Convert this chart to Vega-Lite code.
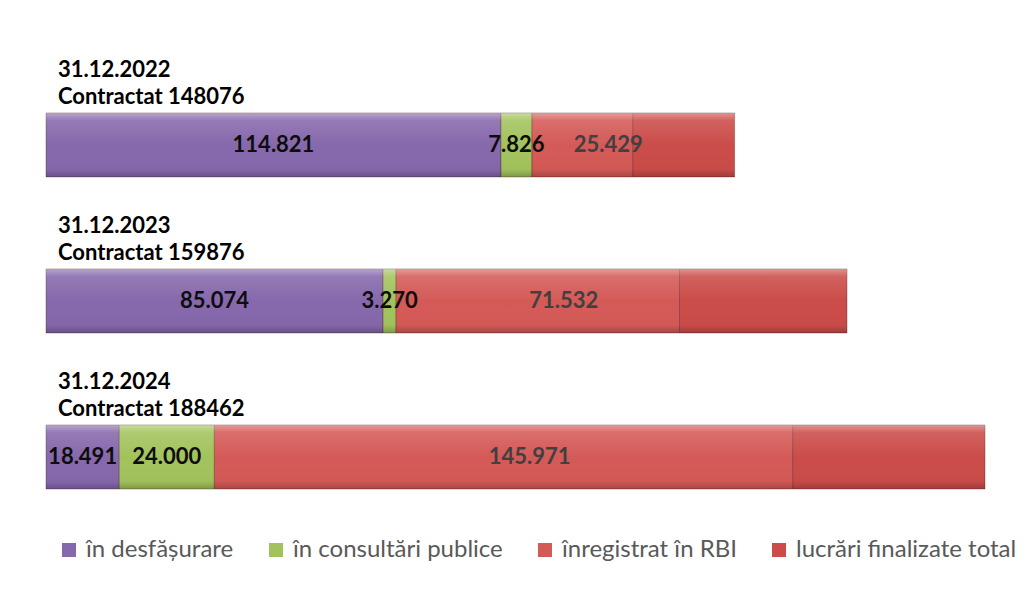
{
  "$schema": "https://vega.github.io/schema/vega-lite/v6.json",
  "width": 951,
  "height": 376,
  "autosize": {"type": "none"},
  "padding": {"left": 46, "top": 113, "right": 36, "bottom": 108},
  "background": "white",
  "config": {"view": {"stroke": null}, "font": "Lato"},
  "data": {
    "values": [
      {"an": "31.12.2022", "contract": "Contractat 148076", "categorie": "în desfășurare", "k": 1, "valoare": 114821, "eticheta": "114.821"},
      {"an": "31.12.2022", "contract": "Contractat 148076", "categorie": "în consultări publice", "k": 2, "valoare": 7826, "eticheta": "7.826"},
      {"an": "31.12.2022", "contract": "Contractat 148076", "categorie": "înregistrat în RBI", "k": 3, "valoare": 25429, "eticheta": "25.429"},
      {"an": "31.12.2022", "contract": "Contractat 148076", "categorie": "lucrări finalizate total", "k": 4, "valoare": 25700, "eticheta": ""},
      {"an": "31.12.2023", "contract": "Contractat 159876", "categorie": "în desfășurare", "k": 1, "valoare": 85074, "eticheta": "85.074"},
      {"an": "31.12.2023", "contract": "Contractat 159876", "categorie": "în consultări publice", "k": 2, "valoare": 3270, "eticheta": "3.270"},
      {"an": "31.12.2023", "contract": "Contractat 159876", "categorie": "înregistrat în RBI", "k": 3, "valoare": 71532, "eticheta": "71.532"},
      {"an": "31.12.2023", "contract": "Contractat 159876", "categorie": "lucrări finalizate total", "k": 4, "valoare": 42270, "eticheta": ""},
      {"an": "31.12.2024", "contract": "Contractat 188462", "categorie": "în desfășurare", "k": 1, "valoare": 18491, "eticheta": "18.491"},
      {"an": "31.12.2024", "contract": "Contractat 188462", "categorie": "în consultări publice", "k": 2, "valoare": 24000, "eticheta": "24.000"},
      {"an": "31.12.2024", "contract": "Contractat 188462", "categorie": "înregistrat în RBI", "k": 3, "valoare": 145971, "eticheta": "145.971"},
      {"an": "31.12.2024", "contract": "Contractat 188462", "categorie": "lucrări finalizate total", "k": 4, "valoare": 48510, "eticheta": ""}
    ]
  },
  "encoding": {
    "y": {"field": "an", "type": "nominal", "sort": null, "axis": null, "scale": {"paddingInner": 0.59, "paddingOuter": 0}}
  },
  "layer": [
    {
      "mark": {"type": "bar", "stroke": "rgba(70,30,30,0.35)", "strokeWidth": 1},
      "encoding": {
        "x": {"field": "valoare", "type": "quantitative", "stack": "zero", "axis": null, "scale": {"domain": [0, 240000], "nice": false, "zero": true}},
        "color": {
          "field": "categorie",
          "type": "nominal",
          "scale": {
            "domain": ["în desfășurare", "în consultări publice", "înregistrat în RBI", "lucrări finalizate total"],
            "range": ["#8668AC", "#A2C35C", "#D45A57", "#CB4C49"]
          },
          "legend": {
            "orient": "none",
            "legendX": 11,
            "legendY": 425,
            "direction": "horizontal",
            "title": null,
            "symbolType": "square",
            "symbolSize": 196,
            "symbolStrokeWidth": 0,
            "labelFontSize": 24,
            "labelFont": "Lato",
            "labelColor": "#595959",
            "labelOffset": 5,
            "columnPadding": 30,
            "padding": 0,
            "labelLimit": 400
          }
        },
        "order": {"field": "k", "type": "quantitative"}
      }
    },
    {
      "mark": {
        "type": "bar",
        "fill": {
          "gradient": "linear",
          "x1": 0, "y1": 0, "x2": 0, "y2": 1,
          "stops": [
            {"offset": 0, "color": "rgba(255,255,255,0.40)"},
            {"offset": 0.12, "color": "rgba(255,255,255,0.12)"},
            {"offset": 0.5, "color": "rgba(255,255,255,0)"},
            {"offset": 0.88, "color": "rgba(0,0,0,0.02)"},
            {"offset": 1, "color": "rgba(0,0,0,0.22)"}
          ]
        },
        "strokeWidth": 0
      },
      "encoding": {
        "x": {"field": "valoare", "type": "quantitative", "stack": "zero", "scale": {"domain": [0, 240000], "nice": false, "zero": true}},
        "detail": {"field": "categorie"},
        "order": {"field": "k", "type": "quantitative"}
      }
    },
    {
      "transform": [
        {"stack": "valoare", "groupby": ["an"], "sort": [{"field": "k"}], "as": ["s0", "s1"]},
        {"filter": "datum.k <= 2"},
        {"calculate": "(datum.s0 + datum.s1) / 2", "as": "mid"}
      ],
      "mark": {"type": "text", "align": "center", "baseline": "middle", "font": "Lato", "fontWeight": "bold", "fontSize": 22, "color": "#0D0D0D"},
      "encoding": {
        "x": {"field": "mid", "type": "quantitative", "scale": {"domain": [0, 240000], "nice": false, "zero": true}},
        "text": {"field": "eticheta"}
      }
    },
    {
      "transform": [
        {"stack": "valoare", "groupby": ["an"], "sort": [{"field": "k"}], "as": ["s0", "s1"]},
        {"filter": "datum.k == 3"},
        {"calculate": "(datum.s0 + datum.s1) / 2", "as": "mid"}
      ],
      "mark": {"type": "text", "align": "center", "baseline": "middle", "dx": 26, "font": "Lato", "fontWeight": "bold", "fontSize": 22, "color": "#404040"},
      "encoding": {
        "x": {"field": "mid", "type": "quantitative", "scale": {"domain": [0, 240000], "nice": false, "zero": true}},
        "text": {"field": "eticheta"}
      }
    },
    {
      "transform": [{"filter": "datum.k == 1"}],
      "mark": {"type": "text", "align": "left", "baseline": "middle", "dx": 12, "dy": -75, "font": "Lato", "fontWeight": "bold", "fontSize": 22, "color": "#000000"},
      "encoding": {
        "x": {"datum": 0, "type": "quantitative", "scale": {"domain": [0, 240000], "nice": false, "zero": true}},
        "text": {"field": "an"}
      }
    },
    {
      "transform": [{"filter": "datum.k == 1"}],
      "mark": {"type": "text", "align": "left", "baseline": "middle", "dx": 12, "dy": -48, "font": "Lato", "fontWeight": "bold", "fontSize": 22, "color": "#000000"},
      "encoding": {
        "x": {"datum": 0, "type": "quantitative", "scale": {"domain": [0, 240000], "nice": false, "zero": true}},
        "text": {"field": "contract"}
      }
    }
  ]
}
